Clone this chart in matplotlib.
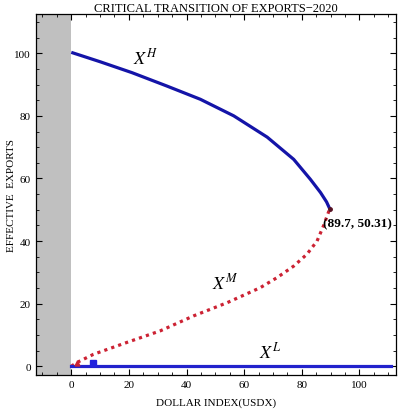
import matplotlib
matplotlib.use('Agg')
import matplotlib.pyplot as plt
from matplotlib.ticker import MultipleLocator

plt.rcParams['font.family'] = ['Liberation Serif', 'DejaVu Serif']
plt.rcParams['mathtext.fontset'] = 'stix'

# ---- data ----
xh_x = [0.0, 10.0, 21.1, 33.0, 44.8, 56.4, 68.0, 77.2, 83.0, 86.5, 88.6, 89.7]
xh_y = [100.3, 97.3, 93.8, 89.6, 85.3, 80.0, 73.2, 66.1, 59.7, 55.5, 52.5, 50.31]

xm_x = [0.0, 2.0, 7.7, 19.3, 30.9, 42.5, 54.1, 65.6, 71.4, 77.2, 81.8, 85.3, 87.6, 89.7]
xm_y = [0.0, 1.2, 3.8, 7.6, 11.3, 16.1, 20.3, 25.1, 28.3, 32.0, 35.8, 40.0, 45.0, 50.31]

xl_x = [0.0, 111.0]
xl_y = [0.0, 0.0]

fold = (89.7, 50.31)

fig = plt.figure(figsize=(3.98, 4.10), dpi=100)
ax = fig.add_axes([0.09, 0.083, 0.905, 0.88])

ax.axvspan(-12.3, 0, color='#c0c0c0', lw=0, zorder=0)

ax.plot(xh_x, xh_y, color='#1414a8', lw=2.3, solid_capstyle='butt', zorder=3)
ax.plot(xm_x, xm_y, color='#cc2233', lw=2.3, linestyle=(0, (1.0, 1.3)), zorder=3)
ax.plot(xl_x, xl_y, color='#2222cc', lw=2.3, zorder=3)

# small markers near the origin
ax.plot([2.0], [1.0], marker='^', ms=3.5, color='#cc2233', zorder=4)
ax.plot([7.5], [1.0], marker='s', ms=4, color='#2222dd', zorder=4)
ax.plot([fold[0]], [fold[1]], marker='o', ms=2.5, color='#551122', zorder=5)

ax.text(25.7, 98.7, r'$X^H$', fontsize=13, ha='center', va='center')
ax.text(53.5, 26.8, r'$X^M$', fontsize=13, ha='center', va='center')
ax.text(69.0, 4.8, r'$X^L$', fontsize=13, ha='center', va='center')
ax.text(87.2, 45.7, '(89.7, 50.31)', fontsize=9.5, fontweight='bold',
        ha='left', va='center', zorder=6, clip_on=False)

ax.set_xlim(-12.3, 112.7)
ax.set_ylim(-2.8, 112.5)
ax.xaxis.set_major_locator(MultipleLocator(20))
ax.xaxis.set_minor_locator(MultipleLocator(5))
ax.yaxis.set_major_locator(MultipleLocator(20))
ax.yaxis.set_minor_locator(MultipleLocator(5))
ax.tick_params(which='both', direction='in', top=True, right=True, labelsize=8)
ax.tick_params(which='major', length=4.5, width=0.8)
ax.tick_params(which='minor', length=2.3, width=0.6)
for s in ax.spines.values():
    s.set_linewidth(0.9)

ax.set_title('CRITICAL TRANSITION OF EXPORTS\u22122020', fontsize=9, pad=2)
fig.text(0.543, 0.017, 'DOLLAR INDEX(USDX)', fontsize=8, ha='center', va='center')
fig.text(0.03, 0.524, 'EFFECTIVE  EXPORTS', fontsize=8, ha='center', va='center',
         rotation=90)

fig.savefig('out.png', dpi=100)
